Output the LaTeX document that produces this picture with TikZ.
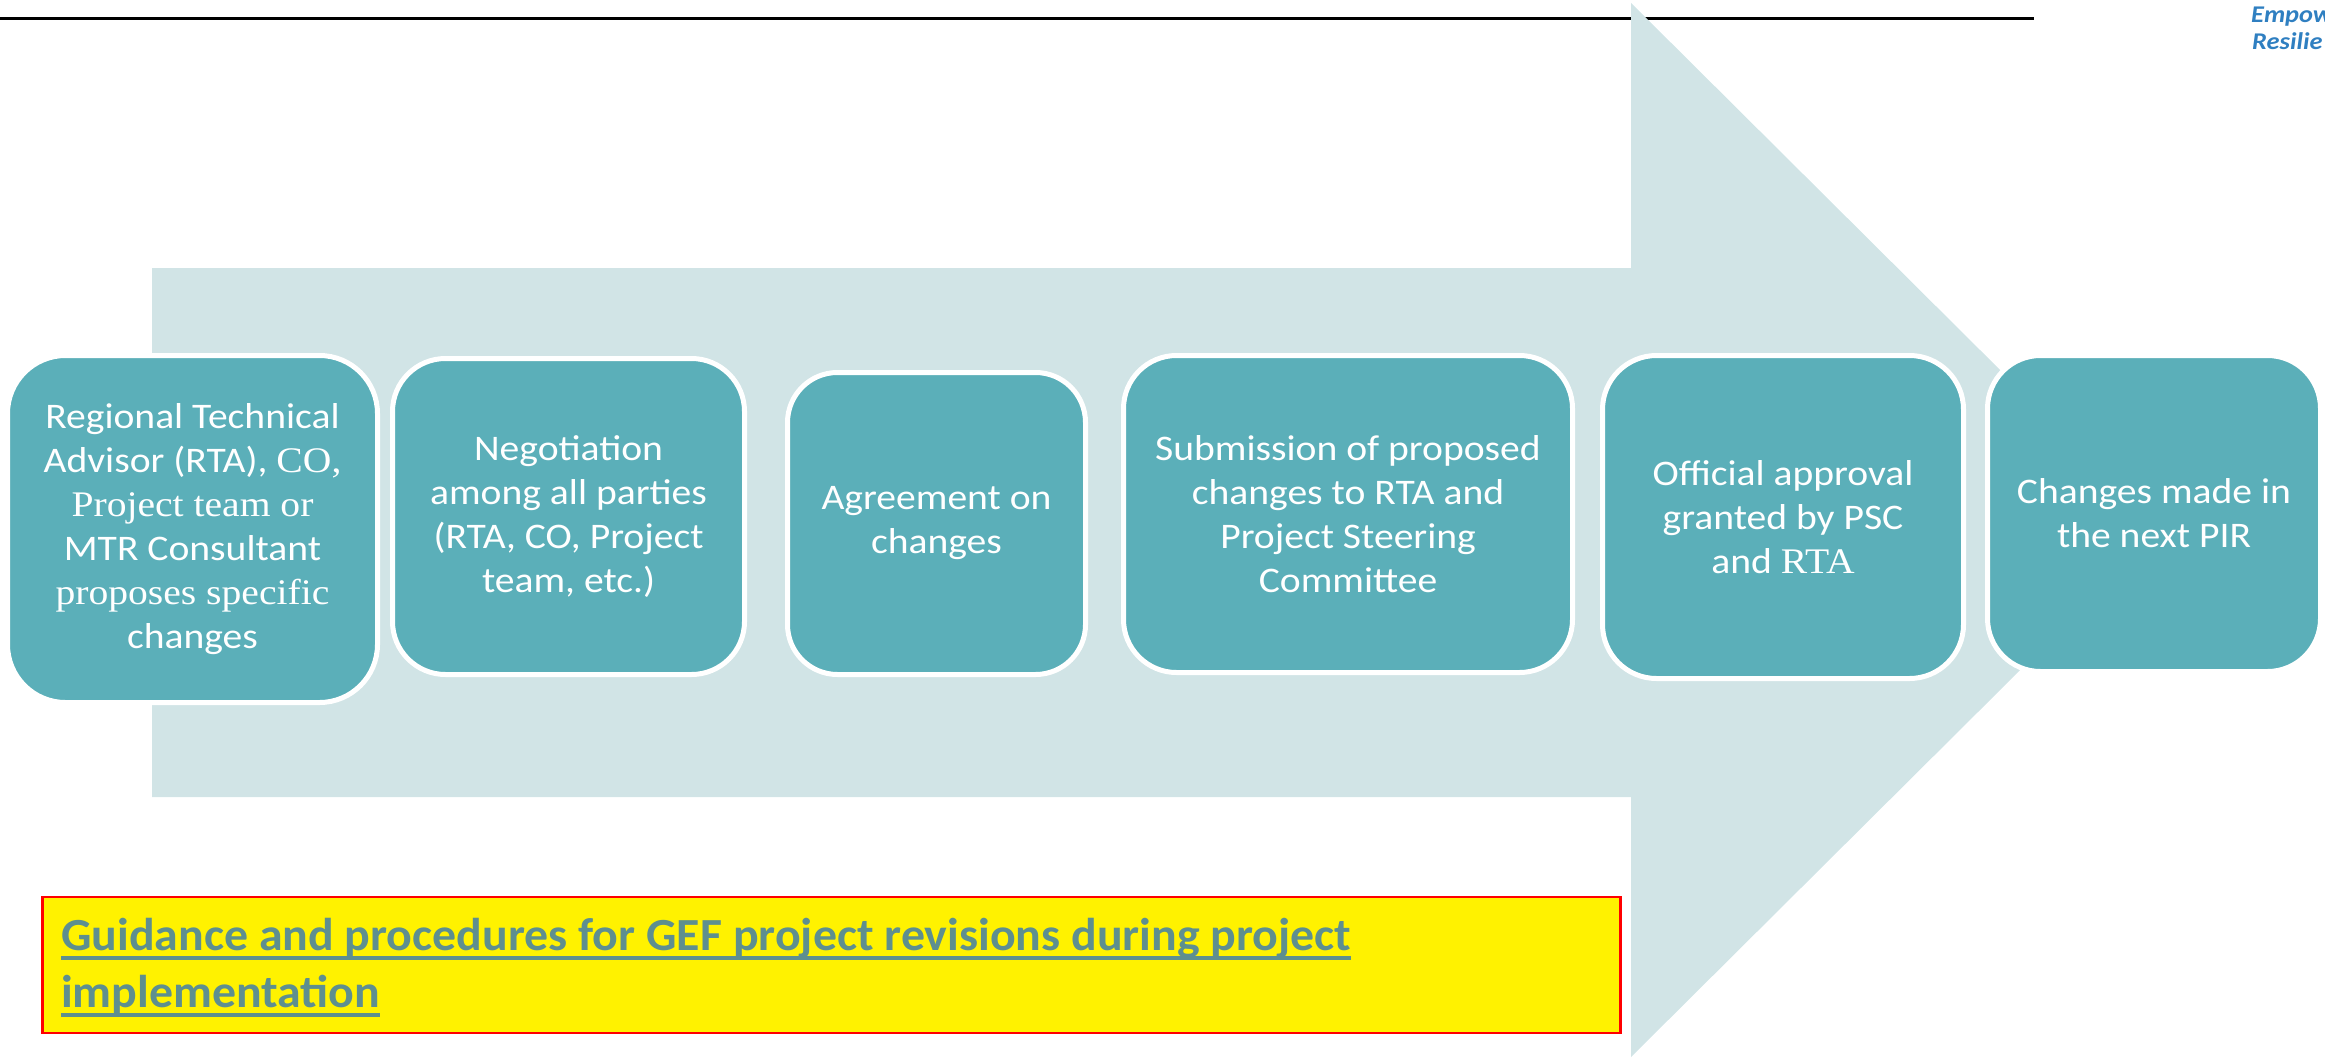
\documentclass[tikz,border=0pt]{standalone}
\usepackage{fontspec}
\setmainfont{Carlito}
\newfontfamily\boxfont[FakeStretch=1.1]{Carlito}
\newfontfamily\altserif[FakeStretch=1.1]{Liberation Serif}
\newfontfamily\titlefont[FakeStretch=1.04]{Carlito}
\newfontfamily\tagfont[FakeStretch=1.1]{Carlito}
\definecolor{arrowfill}{RGB}{209,228,230}
\definecolor{boxteal}{RGB}{91,175,185}
\definecolor{titlecol}{RGB}{94,143,143}
\definecolor{tagblue}{RGB}{47,127,193}
% underline drawn as a thick bar under the text
\newcommand\ulbar[1]{\setbox0=\hbox{#1}\rlap{\rule[-10pt]{\wd0}{4pt}}\box0}
\begin{document}
\begin{tikzpicture}[x=1pt,y=-1pt,
  stepbox/.style={draw=white, line width=5pt, fill=boxteal, text=white,
    inner sep=0pt, align=center, font=\boxfont\fontsize{36}{44}\selectfont},
  titletext/.style={anchor=base west, inner sep=0pt, text=titlecol,
    font=\titlefont\fontsize{46}{57}\selectfont\bfseries},
  tagtext/.style={anchor=base west, inner sep=0pt, text=tagblue,
    font=\tagfont\fontsize{24}{27}\selectfont\bfseries\itshape}]
\useasboundingbox (0,0) rectangle (2325,1057);
\begin{scope}
\clip (0,0) rectangle (2325,1057);
% header rule and tagline
\coordinate (ruleL) at (0,19);
\coordinate (ruleR) at (2034,19);
\draw[line width=3pt] (ruleL) -- (ruleR);
\node[tagtext] (tag1) at (2251,23) {Empow};
\node[tagtext] (tag2) at (2252,50) {Resilie};
% block arrow behind the steps
\fill[arrowfill] (152,268) -- (1631,268) -- (1631,3) -- (2161,530)
  -- (1631,1057) -- (1631,797) -- (152,797) -- cycle;
\end{scope}
% process steps
\node[stepbox, minimum width=370pt, minimum height=347pt,
  rounded corners=58pt] (s1) at (192.5,529)
  {Regional Technical\\Advisor (RTA), {\altserif CO,}\\{\altserif Project team or}\\MTR Consultant\\{\altserif proposes specific}\\changes};
\node[stepbox, minimum width=352pt, minimum height=316pt,
  rounded corners=53pt] (s2) at (568.5,516.5)
  {Negotiation\\among all parties\\(RTA, CO, Project\\team, etc.)};
\node[stepbox, minimum width=298pt, minimum height=302pt,
  rounded corners=50pt] (s3) at (936.5,523.5)
  {Agreement on\\changes};
\node[stepbox, minimum width=449pt, minimum height=317pt,
  rounded corners=53pt] (s4) at (1348,514)
  {Submission of proposed\\changes to RTA and\\Project Steering\\Committee};
\node[stepbox, minimum width=361pt, minimum height=323pt,
  rounded corners=54pt] (s5) at (1783,517)
  {Official approval\\granted by PSC\\and {\altserif RTA}};
\node[stepbox, minimum width=333pt, minimum height=316pt,
  rounded corners=53pt] (s6) at (2154,513.5)
  {Changes made in\\the next PIR};
% banner with the title
\node[draw=red, line width=2.5pt, fill=yellow, inner sep=0pt,
  minimum width=1578pt, minimum height=136pt] (banner) at (831.5,965) {};
\node[titletext] (title1) at (61,950)
  {\ulbar{Guidance and procedures for GEF project revisions during project}};
\node[titletext] (title2) at (61,1007) {\ulbar{implementation}};
\end{tikzpicture}
\end{document}
